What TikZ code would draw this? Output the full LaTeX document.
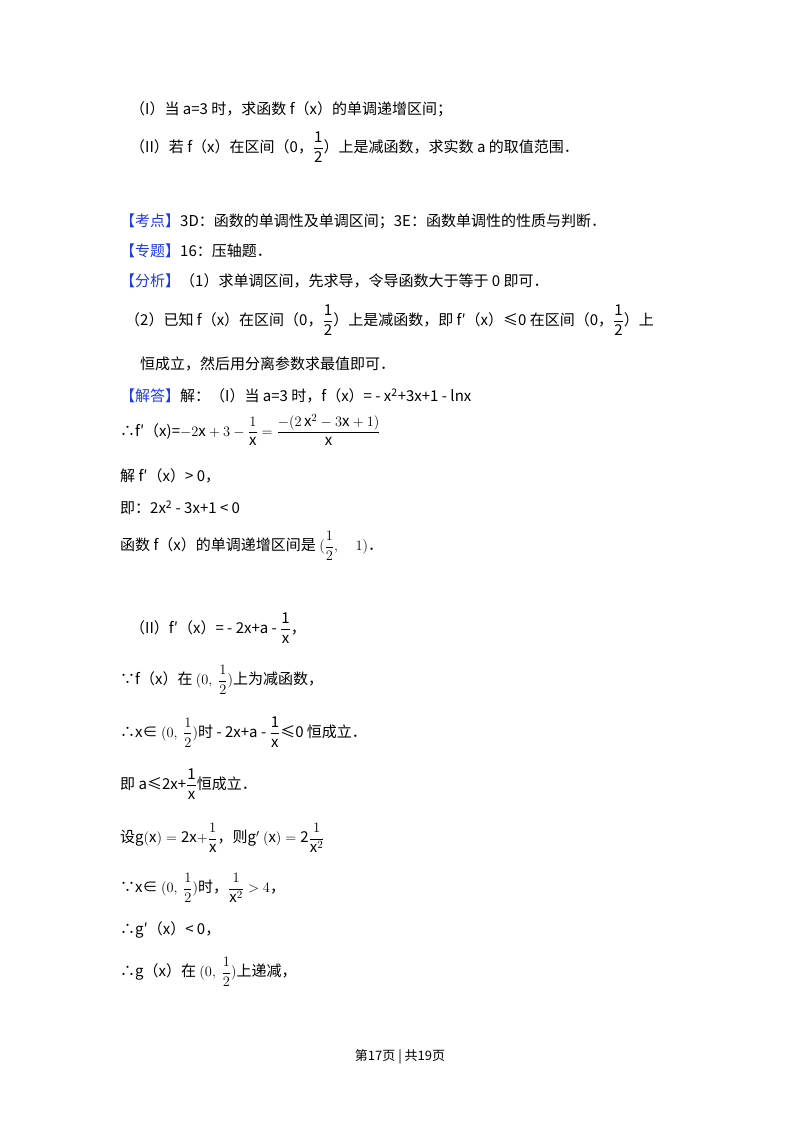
\documentclass[tikz,border=0pt]{standalone}
\usepackage{fontspec}
\usepackage{amsmath,amssymb}
\setmainfont{Noto Sans CJK SC}
\definecolor{kb}{RGB}{30,60,230}
\newcommand{\hd}[1]{\textcolor{kb}{【#1】}}
\newcommand{\fr}[2]{$\dfrac{\mathrm{#1}}{\mathrm{#2}}$}
\begin{document}
\begin{tikzpicture}[x=1pt,y=-1pt,
  ln/.style={anchor=west,inner sep=0pt,font=\fontsize{15}{17}\selectfont}]
\useasboundingbox[fill=white] (0,0) rectangle (800,1132);
\node[ln] (l1) at (130,109) {（I）当 a=3 时，求函数 f（x）的单调递增区间；};
\node[ln] (l2) at (130,147) {（II）若 f（x）在区间（0，\fr{1}{2}）上是减函数，求实数 a 的取值范围．};
\node[ln] (l3) at (120,221) {\hd{考点}3D：函数的单调性及单调区间；3E：函数单调性的性质与判断．};
\node[ln] (l4) at (120,251) {\hd{专题}16：压轴题．};
\node[ln] (l5) at (120,281) {\hd{分析}（1）求单调区间，先求导，令导函数大于等于 0 即可．};
\node[ln] (l6) at (125,320) {（2）已知 f（x）在区间（0，\fr{1}{2}）上是减函数，即 f′（x）≤0 在区间（0，\fr{1}{2}）上};
\node[ln] (l7) at (140,364) {恒成立，然后用分离参数求最值即可．};
\node[ln] (l8) at (120,396) {\hd{解答}解：（I）当 a=3 时，f（x）= - x\textsuperscript{2}+3x+1 - lnx};
\node[ln] (l9) at (120,430) {∴f′（x)=$-2\mathrm{x}+3-\dfrac{1}{\mathrm{x}}=\dfrac{-(2\,\mathrm{x}^2-3\mathrm{x}+1)}{\mathrm{x}}$};
\node[ln] (l10) at (120,476) {解 f′（x）> 0，};
\node[ln] (l11) at (120,508) {即：2x\textsuperscript{2} - 3x+1 < 0};
\node[ln] (l12) at (120,546) {函数 f（x）的单调递增区间是 $(\dfrac{1}{2},\quad 1)$．};
\node[ln] (l13) at (130,628) {（II）f′（x）= - 2x+a - \fr{1}{x}，};
\node[ln] (l14) at (120,680) {∵f（x）在 $(0,\ \dfrac{1}{2})$上为减函数，};
\node[ln] (l15) at (120,732) {∴x∈ $(0,\ \dfrac{1}{2})$时 - 2x+a - \fr{1}{x}≤0 恒成立．};
\node[ln] (l16) at (120,784) {即 a≤2x+\fr{1}{x}恒成立．};
\node[ln] (l17) at (120,838) {设$\mathrm{g(x)=2x+}\dfrac{1}{\mathrm{x}}$，则$\mathrm{g'\ (x)=2}\dfrac{1}{\mathrm{x}^2}$};
\node[ln] (l18) at (120,888) {∵x∈ $(0,\ \dfrac{1}{2})$时，$\dfrac{1}{\mathrm{x}^2}>4$，};
\node[ln] (l19) at (120,930) {∴g′（x）< 0，};
\node[ln] (l20) at (120,972) {∴g（x）在 $(0,\ \dfrac{1}{2})$上递减，};
\node[inner sep=0pt,font=\fontsize{13}{15}\selectfont] (ft) at (400,1057) {第17页 | 共19页};
\end{tikzpicture}
\end{document}
